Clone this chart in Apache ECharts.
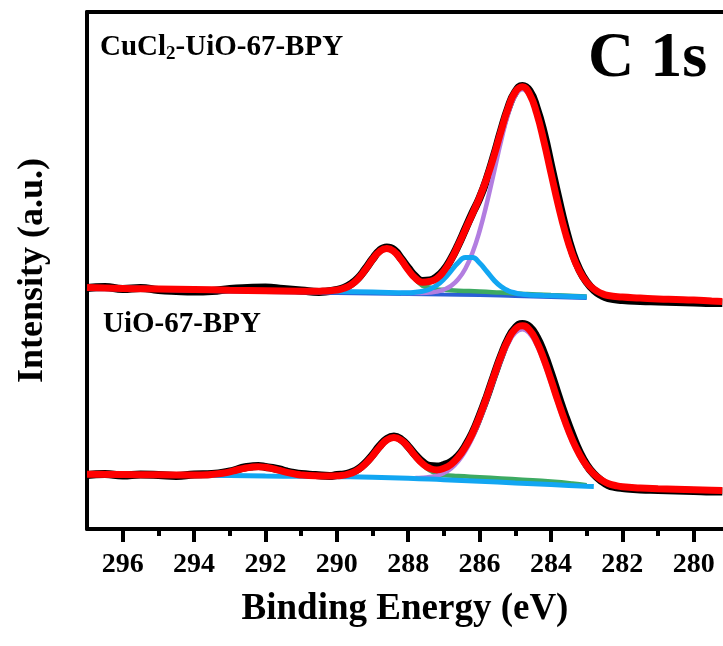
<!DOCTYPE html>
<html>
<head>
<meta charset="utf-8">
<script src="https://cdn.jsdelivr.net/npm/echarts@6/dist/echarts.min.js"></script>
<style>html,body{margin:0;padding:0;background:#fff}#c{width:723px;height:646px}</style>
</head>
<body>
<div id="c"></div>
<script>
// ---- Data (binding energy eV, intensity a.u.) ----
const majorTicks = [296, 294, 292, 290, 288, 286, 284, 282, 280];
const minorTicks = [295, 293, 291, 289, 287, 285, 283, 281];

// CuCl2-UiO-67-BPY (upper spectrum)
const cuRaw = [[297,241],[296.5,242],[296,240],[295.5,241],[295,239],[294.5,238],[294,237.5],[293.5,238],[293,240],[292.5,241],[292,241.5],[291.5,240],[291,238.5],[290.5,237],[290,239],[289.8,241],[289.6,245],[289.4,251],[289.2,260],[289.0,270],[288.8,278.5],[288.6,281.5],[288.4,279],[288.2,270.5],[288.0,261],[287.8,252.5],[287.6,248],[287.4,248.5],[287.2,252],[287.0,259],[286.8,270],[286.6,284],[286.4,300],[286.2,316],[286.0,331],[285.8,350],[285.6,373],[285.4,398],[285.2,421],[285.0,437],[284.8,443],[284.6,438],[284.4,421],[284.2,396],[284.0,364],[283.8,332],[283.6,302],[283.4,277],[283.2,259],[283.0,247],[282.8,239],[282.6,234],[282.4,231],[282.0,229],[281.5,228],[281,227.5],[280.5,227],[280,226.5],[279.5,226],[279.2,226]];
const cuFit = [[297,241.5],[296,240.5],[295,240],[294,239.5],[293,238.8],[292,238.3],[291,237.8],[290.6,237.7],[290.4,237.9],[290.2,238.3],[290.0,239.0],[289.8,240.7],[289.6,244.2],[289.4,250.4],[289.2,259.3],[289.0,269.5],[288.8,277.6],[288.6,280.5],[288.4,277.5],[288.2,269.3],[288.0,259.1],[287.8,250.8],[287.6,246.8],[287.4,247.6],[287.2,250.5],[287.0,258],[286.8,269.2],[286.6,283.7],[286.4,299.4],[286.2,315.2],[286.0,331.5],[285.8,350.5],[285.6,372.8],[285.4,397.8],[285.2,420.8],[285.0,437],[284.8,442.2],[284.6,434.9],[284.4,415.7],[284.2,387.9],[284.0,356],[283.8,324.5],[283.6,296.6],[283.4,274.3],[283.2,257.9],[283.0,246.9],[282.8,239.9],[282.6,235.9],[282.4,233.5],[282.0,232],[281.5,231],[281,230],[280.5,229.5],[280,229],[279.5,228],[279.2,227.5]];
const cuBackground = [[297,240],[295,239],[293,237.6],[291,236.4],[289,235.6],[288,235.1],[287,234.5],[286,234],[285,233],[284,232],[283,231]];
const cuPeakOC = [[297,241],[292,238],[291,237.7],[290.6,237.7],[290.4,237.9],[290.2,238.3],[290.0,239],[289.8,240.7],[289.6,244.2],[289.4,250.4],[289.2,259.3],[289.0,269.5],[288.8,277.6],[288.6,280.4],[288.4,277.4],[288.2,269.1],[288.0,258.7],[287.8,249.7],[287.6,243.3],[287.4,241.5],[287.2,239.6],[287.0,239.2],[286.6,238.3],[286.0,237.5],[285.4,236.4],[284.8,235.3],[284.0,234],[283.0,232.5]];
const cuPeakCC = [[288.2,236.1],[287.8,235.9],[287.4,236.5],[287.2,237.4],[287.0,239.4],[286.8,243.1],[286.6,249.7],[286.4,260.3],[286.2,276.3],[286.0,298.0],[285.8,325.4],[285.6,356.3],[285.4,387.7],[285.2,414.9],[285.0,433.4],[284.8,439.8],[284.6,433.0],[284.4,414.1],[284.2,386.5],[284.0,354.7],[283.8,323.4],[283.6,295.6],[283.4,273.6],[283.2,257.3],[283.0,246.4],[282.8,239.6],[282.6,235.7],[282.4,233.5],[282.2,232.4]];
const cuPeakCN = [[297,241.5],[295,240.5],[293,239],[291,237.8],[289,237],[288.0,236.3],[287.8,236.8],[287.6,237.8],[287.4,239.8],[287.2,243.7],[287.0,249.9],[286.8,258.2],[286.6,266.3],[286.4,271.5],[286.2,271.4],[286.0,266],[285.8,257.6],[285.6,249],[285.4,242.5],[285.2,238.3],[285.0,236],[284.8,234.7],[284.6,234.1],[284.2,233.5],[283.6,232.8],[283.0,232.1]];

// UiO-67-BPY (lower spectrum)
const uioRaw = [[297,54],[296.5,55],[296,53.5],[295.5,54.5],[295,54],[294.5,53],[294,54.5],[293.5,55],[293,57.5],[292.8,59.5],[292.6,61.5],[292.4,62.5],[292.2,63],[292.0,62],[291.8,61],[291.6,59.5],[291.4,57.5],[291.2,56],[291.0,55],[290.6,54],[290.2,53],[290.0,54],[289.8,54.5],[289.6,56.5],[289.4,60],[289.2,66],[289.0,74],[288.8,83],[288.6,90],[288.4,92.5],[288.2,89.5],[288.0,82.5],[287.8,74],[287.6,67],[287.4,63],[287.2,62.5],[287.0,64],[286.8,67],[286.6,73],[286.4,83],[286.2,96],[286.0,113],[285.8,132],[285.6,153],[285.4,173],[285.2,190],[285.0,201],[284.8,205],[284.6,202],[284.4,192],[284.2,176],[284.0,156],[283.8,134],[283.6,113],[283.4,94],[283.2,77],[283.0,64],[282.8,55],[282.6,48.5],[282.4,44],[282.2,42],[282.0,41],[281.5,39.5],[281,39],[280.5,38.5],[280,38],[279.5,37.5],[279.2,37.5]];
const uioFit = [[297,54.8],[296,54.5],[295,54.2],[294,54],[293.6,54.3],[293.2,55.8],[293.0,57.2],[292.8,59],[292.6,60.6],[292.4,61.8],[292.2,62.3],[292.0,61.7],[291.8,60.3],[291.6,58.6],[291.4,56.7],[291.2,55.2],[291.0,54.1],[290.6,53.2],[290.2,53],[290.0,53.2],[289.8,53.9],[289.6,55.7],[289.4,59.3],[289.2,65.2],[289.0,73.1],[288.8,82],[288.6,89],[288.4,91.4],[288.2,88.9],[288.0,81.9],[287.8,73],[287.6,65.4],[287.4,60.7],[287.2,59.1],[287.0,60.7],[286.8,64.6],[286.6,71.7],[286.4,81.9],[286.2,95.5],[286.0,112.6],[285.8,132.1],[285.6,152.9],[285.4,172.7],[285.2,189],[285.0,199.9],[284.8,203.3],[284.6,199],[284.4,187.3],[284.2,170],[284.0,149.3],[283.8,127.5],[283.6,107.1],[283.4,89.1],[283.2,74.5],[283.0,63.2],[282.8,55],[282.6,49.4],[282.4,45.5],[282.2,43.5],[282.0,42.2],[281.5,41],[281,40.3],[280.5,39.8],[280,39.3],[279.5,38.8],[279.2,38.5]];
const uioBackground = [[297,54.5],[296,54.2],[295,54],[294,53.7],[293,53.4],[292,53],[291,52.7],[290,52.3],[289,51.8],[288,50.8],[287,49.3],[286,47.8],[285,46.1],[284,44.4],[283,42.7],[282.8,42.4]];
const uioPeakSat = [[294.0,53.6],[293.6,54.1],[293.4,54.7],[293.2,55.6],[293.0,57],[292.8,58.8],[292.6,60.4],[292.4,61.6],[292.2,62.1],[292.0,61.5],[291.8,60.1],[291.6,58.4],[291.4,56.5],[291.2,55],[291.0,53.9],[290.8,53.2],[290.4,52.5]];
const uioPeakOC = [[290.4,52.5],[290.0,53],[289.8,53.8],[289.6,55.6],[289.4,59.2],[289.2,65.1],[289.0,73],[288.8,81.9],[288.6,88.9],[288.4,91.2],[288.2,88.7],[288.0,81.6],[287.8,72.5],[287.6,64.4],[287.4,58.7],[287.2,55.4],[287.0,53.9],[286.6,52.9],[286.0,51.8],[285.4,50.6],[284.8,49.3],[284.0,47.4],[283.4,45.5],[283.0,43.8]];
const uioPeakCC = [[287.8,51.0],[287.6,51.2],[287.4,51.9],[287.2,53.3],[287.0,56.1],[286.8,60.6],[286.6,67.7],[286.4,77.9],[286.2,91.5],[286.0,108.6],[285.8,128.2],[285.6,149],[285.4,168.9],[285.2,185.3],[285.0,196.3],[284.8,199.8],[284.6,195.6],[284.4,184],[284.2,166.8],[284.0,146.3],[283.8,124.7],[283.6,104.5],[283.4,86.7],[283.2,72.5],[283.0,61.7],[282.8,54],[282.6,48.9],[282.4,45.5],[282.2,43.5],[282.0,42.2]];

// ---- Chart ----
const FONT = "'Liberation Serif','Times New Roman',serif";
const RED = '#ff0000', BLACK = '#000000', PURPLE = '#b27ee0', CYAN = '#12a6f2', GREEN = '#3daa62', DBLUE = '#2a5fd6';

function line(data, color, width) {
  return { type: 'line', data: data, showSymbol: false, symbol: 'none', smooth: true,
           lineStyle: { color: color, width: width }, xAxisIndex: 0, yAxisIndex: 0, silent: true };
}

const chart = echarts.init(document.getElementById('c'), null, { renderer: 'canvas' });
chart.setOption({
  animation: false,
  backgroundColor: '#ffffff',
  grid: { left: 87, right: 0, top: 12, bottom: 117, containLabel: false },
  xAxis: [
    { type: 'value', min: 279.18, max: 297, inverse: true, position: 'bottom',
      axisLine: { show: true, lineStyle: { color: BLACK, width: 4 } },
      axisTick: { show: true, inside: false, length: 13, lineStyle: { color: BLACK, width: 4 }, customValues: majorTicks },
      axisLabel: { show: true, customValues: majorTicks, margin: 22, color: BLACK, fontSize: 28, fontWeight: 'bold', fontFamily: FONT },
      splitLine: { show: false },
      name: 'Binding Energy (eV)', nameLocation: 'middle', nameGap: 62,
      nameTextStyle: { color: BLACK, fontSize: 37, fontWeight: 'bold', fontFamily: FONT } },
    { type: 'value', min: 279.18, max: 297, inverse: true, position: 'bottom',
      axisLine: { show: false },
      axisTick: { show: true, inside: false, length: 7, lineStyle: { color: BLACK, width: 4 }, customValues: minorTicks },
      axisLabel: { show: false }, splitLine: { show: false } },
    { type: 'value', min: 279.18, max: 297, inverse: true, position: 'top',
      axisLine: { show: true, lineStyle: { color: BLACK, width: 4 } },
      axisTick: { show: false }, axisLabel: { show: false }, splitLine: { show: false } }
  ],
  yAxis: {
    type: 'value', min: 0, max: 517,
    axisLine: { show: true, lineStyle: { color: BLACK, width: 4 } },
    axisTick: { show: false }, axisLabel: { show: false }, splitLine: { show: false },
    name: 'Intensity (a.u.)', nameLocation: 'middle', nameGap: 36, nameRotate: 90,
    nameTextStyle: { color: BLACK, fontSize: 36, fontWeight: 'bold', fontFamily: FONT }
  },
  series: [
    line(cuRaw, BLACK, 8),
    line(cuBackground, DBLUE, 4),
    line(cuPeakOC, GREEN, 4.5),
    line(cuPeakCC, PURPLE, 4.5),
    line(cuPeakCN, CYAN, 5),
    line(cuFit, RED, 7),
    line(uioRaw, BLACK, 8),
    line(uioPeakOC, GREEN, 4.5),
    line(uioPeakCC, PURPLE, 4.5),
    line(uioPeakSat, PURPLE, 4.5),
    line(uioBackground, CYAN, 5),
    line(uioFit, RED, 7)
  ],
  graphic: [
    { type: 'text', left: 100, top: 33, silent: true,
      style: { text: '{a|CuCl}{s|2}{a|-UiO-67-BPY}', fill: BLACK,
        rich: { a: { fontSize: 29, fontWeight: 'bold', fontFamily: FONT, verticalAlign: 'top' },
                s: { fontSize: 19, fontWeight: 'bold', fontFamily: FONT, verticalAlign: 'top', padding: [12, 0, 0, 0] } } } },
    { type: 'text', left: 103, top: 310, silent: true,
      style: { text: 'UiO-67-BPY', fill: BLACK, fontSize: 29, fontWeight: 'bold', fontFamily: FONT } },
    { type: 'text', left: 588, top: 27, silent: true,
      style: { text: 'C 1s', fill: BLACK, fontSize: 64, fontWeight: 'bold', fontFamily: FONT } }
  ]
});
</script>
</body>
</html>
